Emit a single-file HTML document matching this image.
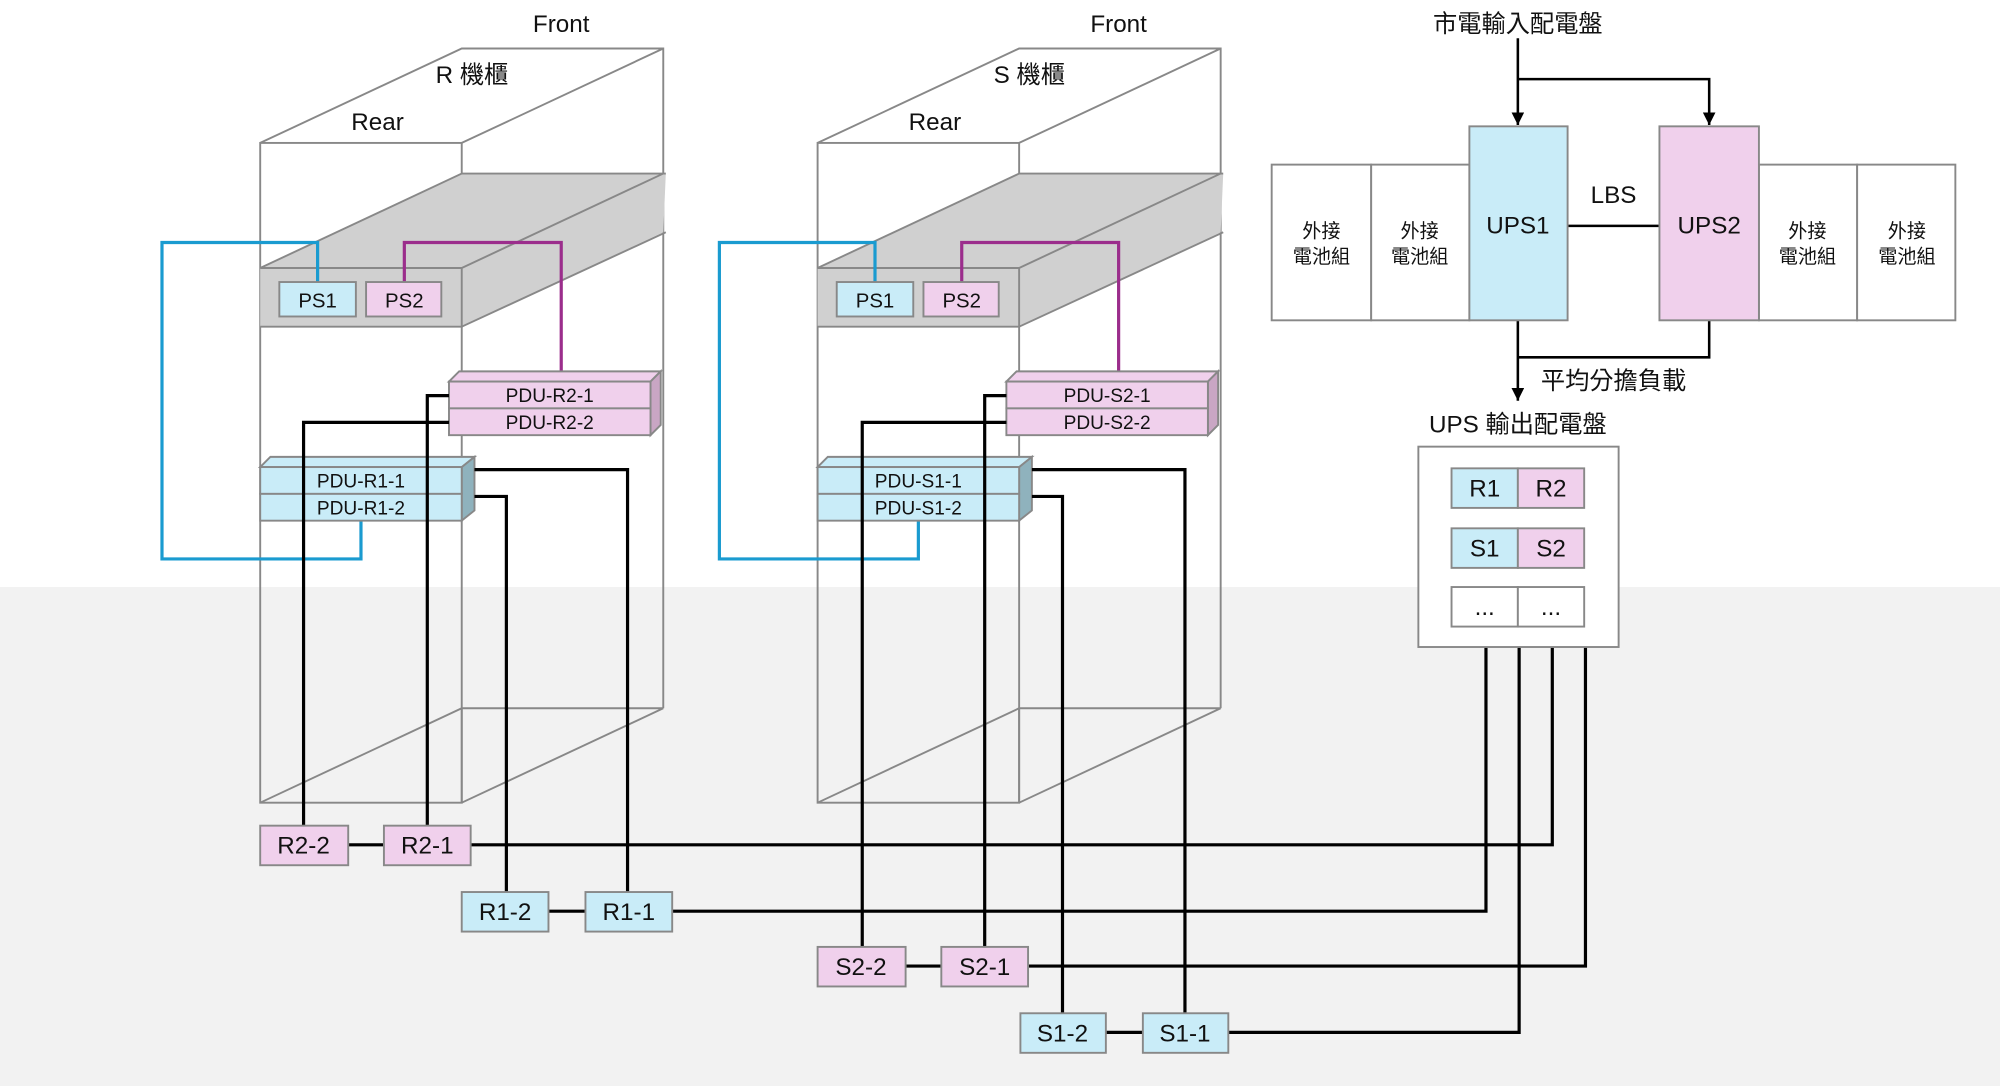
<!DOCTYPE html>
<html><head><meta charset="utf-8"><style>
html,body{margin:0;padding:0;background:#fff}
svg{display:block}
text{font-family:"Liberation Sans","Noto Sans CJK TC",sans-serif;fill:#111}
</style></head><body>
<svg width="2000" height="1086" viewBox="0 0 1568 851" preserveAspectRatio="none" xmlns="http://www.w3.org/2000/svg">
<defs>
<marker id="ar" markerWidth="10" markerHeight="10" refX="10" refY="5" orient="auto" markerUnits="userSpaceOnUse">
<path d="M0,0 L10,5 L0,10 z" fill="#000"/></marker>
<g id="rack">
  <g fill="none" stroke="#888" stroke-width="1.5">
    <rect x="204" y="112" width="158" height="517"/>
    <path d="M204,112 L362,38 L520,38 L520,555 M362,112 L520,38 M204,629 L362,555 L520,555 M362,629 L520,555 M362,555 L362,629"/>
  </g>
  <path d="M204,210 L362,136 L522,136 L520,182 L362,256 L204,256 z" fill="#d0d0d0"/>
  <g fill="none" stroke="#888" stroke-width="1.5">
    <path d="M204,210 L362,136 L522,136 M362,210 L520,136 M362,256 L522,182 M204,210 L362,210 L362,256 L204,256"/>
  </g>
</g>
</defs>
<rect x="0" y="460" width="1568" height="391" fill="#f2f2f2"/>

<use href="#rack"/>
<use href="#rack" x="437"/>

<g font-size="19" text-anchor="middle">
<text x="440" y="25">Front</text><text x="370" y="65">R 機櫃</text><text x="296" y="102">Rear</text>
<text x="877" y="25">Front</text><text x="807" y="65">S 機櫃</text><text x="733" y="102">Rear</text>
</g>

<g id="rc">
<path d="M249,221 V190 H127 V438 H283 V408" fill="none" stroke="#1a9bd0" stroke-width="2.5"/>
<path d="M317,221 V190 H440 V291" fill="none" stroke="#9b2d8c" stroke-width="2.5"/>
<g stroke="#888" stroke-width="1.5">
<rect x="219" y="221" width="60" height="27" fill="#c9ecf8"/>
<rect x="287" y="221" width="59" height="27" fill="#f0d0ec"/>
<path d="M352,299 L360,291 L518,291 L510,299 z" fill="#f0d0ec"/>
<path d="M510,299 L518,291 L518,333 L510,341 z" fill="#c9a6c4"/>
<rect x="352" y="299" width="158" height="21" fill="#f0d0ec"/>
<rect x="352" y="320" width="158" height="21" fill="#f0d0ec"/>
<path d="M204,366 L212,358 L372,358 L362,366 z" fill="#c9ecf8"/>
<path d="M362,366 L372,358 L372,400 L362,408 z" fill="#8fb2bd"/>
<rect x="204" y="366" width="158" height="21" fill="#c9ecf8"/>
<rect x="204" y="387" width="158" height="21" fill="#c9ecf8"/>
</g>
<g font-size="16" text-anchor="middle"><text x="249" y="241">PS1</text><text x="317" y="241">PS2</text></g>
</g>
<g font-size="15" text-anchor="middle">
<text x="431" y="315">PDU-R2-1</text><text x="431" y="336">PDU-R2-2</text>
<text x="283" y="382">PDU-R1-1</text><text x="283" y="403">PDU-R1-2</text>
</g>
<use href="#rc" x="437"/>
<g font-size="15" text-anchor="middle">
<text x="868" y="315">PDU-S2-1</text><text x="868" y="336">PDU-S2-2</text>
<text x="720" y="382">PDU-S1-1</text><text x="720" y="403">PDU-S1-2</text>
</g>

<g fill="none" stroke="#000" stroke-width="2.5">
<path d="M352,310 H335 V647"/><path d="M352,331 H238 V647"/>
<path d="M372,368 H492 V699"/><path d="M372,389 H397 V699"/>
<path d="M273,662 H301 M369,662 H1217 V507"/>
<path d="M430,714 H459 M527,714 H1165 V507"/>
<path d="M789,310 H772 V742"/><path d="M789,331 H676 V742"/>
<path d="M809,368 H929 V794"/><path d="M809,389 H833 V794"/>
<path d="M710,757 H738 M806,757 H1243 V507"/>
<path d="M867,809 H896 M963,809 H1191 V507"/>
</g>

<g stroke="#888" stroke-width="1.5">
<rect x="204" y="647" width="69" height="31" fill="#f0d0ec"/>
<rect x="301" y="647" width="68" height="31" fill="#f0d0ec"/>
<rect x="362" y="699" width="68" height="31" fill="#c9ecf8"/>
<rect x="459" y="699" width="68" height="31" fill="#c9ecf8"/>
<rect x="641" y="742" width="69" height="31" fill="#f0d0ec"/>
<rect x="738" y="742" width="68" height="31" fill="#f0d0ec"/>
<rect x="800" y="794" width="67" height="31" fill="#c9ecf8"/>
<rect x="896" y="794" width="67" height="31" fill="#c9ecf8"/>
</g>
<g font-size="19" text-anchor="middle">
<text x="238" y="669">R2-2</text><text x="335" y="669">R2-1</text>
<text x="396" y="721">R1-2</text><text x="493" y="721">R1-1</text>
<text x="675" y="764">S2-2</text><text x="772" y="764">S2-1</text>
<text x="833" y="816">S1-2</text><text x="929" y="816">S1-1</text>
</g>

<g fill="none" stroke="#000" stroke-width="2">
<path d="M1190,30 V98" marker-end="url(#ar)"/>
<path d="M1190,62 H1340 V98" marker-end="url(#ar)"/>
<path d="M1229,177 H1301"/>
<path d="M1190,251 V314" marker-end="url(#ar)"/>
<path d="M1340,251 V280 H1190"/>
</g>
<g stroke="#888" stroke-width="1.5">
<rect x="997" y="129" width="78" height="122" fill="#fff"/>
<rect x="1075" y="129" width="77" height="122" fill="#fff"/>
<rect x="1379" y="129" width="77" height="122" fill="#fff"/>
<rect x="1456" y="129" width="77" height="122" fill="#fff"/>
<rect x="1152" y="99" width="77" height="152" fill="#c9ecf8"/>
<rect x="1301" y="99" width="78" height="152" fill="#f0d0ec"/>
<rect x="1112" y="350" width="157" height="157" fill="#fff"/>
<rect x="1138" y="367" width="52" height="31" fill="#c9ecf8"/>
<rect x="1190" y="367" width="52" height="31" fill="#f0d0ec"/>
<rect x="1138" y="414" width="52" height="31" fill="#c9ecf8"/>
<rect x="1190" y="414" width="52" height="31" fill="#f0d0ec"/>
<rect x="1138" y="460" width="52" height="31" fill="#fff"/>
<rect x="1190" y="460" width="52" height="31" fill="#fff"/>
</g>
<g font-size="19" text-anchor="middle">
<text x="1190" y="25">市電輸入配電盤</text>
<text x="1265" y="159">LBS</text>
<text x="1190" y="183">UPS1</text><text x="1340" y="183">UPS2</text>
<text x="1265" y="305">平均分擔負載</text>
<text x="1190" y="339">UPS 輸出配電盤</text>
<text x="1164" y="389">R1</text><text x="1216" y="389">R2</text>
<text x="1164" y="436">S1</text><text x="1216" y="436">S2</text>
<text x="1164" y="482">...</text><text x="1216" y="482">...</text>
</g>
<g font-size="15" text-anchor="middle">
<text x="1036" y="186">外接</text><text x="1036" y="206">電池組</text>
<text x="1113" y="186">外接</text><text x="1113" y="206">電池組</text>
<text x="1417" y="186">外接</text><text x="1417" y="206">電池組</text>
<text x="1495" y="186">外接</text><text x="1495" y="206">電池組</text>
</g>
</svg>
</body></html>
